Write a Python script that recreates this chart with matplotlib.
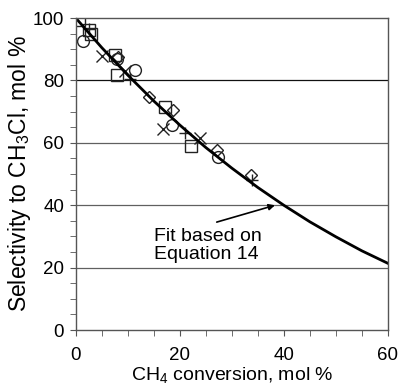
import matplotlib
matplotlib.use("Agg")
import matplotlib.pyplot as plt
from matplotlib.ticker import MultipleLocator

plt.rcParams['font.family'] = ['Liberation Sans', 'DejaVu Sans']
plt.rcParams['mathtext.fontset'] = 'custom'
plt.rcParams['mathtext.rm'] = 'Liberation Sans'
plt.rcParams['mathtext.it'] = 'Liberation Sans:italic'

# fit curve
fit_x = [0, 5, 10, 15, 20, 25, 30, 35, 40, 45, 50, 55, 60]
fit_y = [100, 90.5, 81.7, 73.4, 65.7, 58.5, 51.9, 45.7, 40.0, 34.7, 29.9, 25.4, 21.4]

# measured points
sq_x = [0.6, 2.5, 2.9, 7.5, 7.9, 17.1, 22.1]
sq_y = [99.5, 96.2, 94.9, 88.1, 81.6, 71.5, 58.9]
ci_x = [1.3, 7.9, 11.3, 18.5, 27.3]
ci_y = [92.6, 87.0, 83.5, 65.7, 55.6]
xx_x = [5.0, 9.4, 16.7, 23.8]
xx_y = [87.8, 83.0, 64.4, 61.4]
di_x = [8.2, 14.0, 18.7, 27.1, 33.7]
di_y = [87.6, 74.6, 70.6, 57.7, 49.7]
pl_x = [2.5, 10.4, 21.0, 33.8]
pl_y = [96.5, 80.6, 63.3, 48.0]

fig = plt.figure(figsize=(3.99, 3.92), dpi=100)
ax = fig.add_axes([0.19, 0.158, 0.782, 0.796])

for yv in [20, 40, 60]:
    ax.axhline(yv, color='#606060', lw=0.9, zorder=0)
ax.axhline(80, color='#111111', lw=0.9, zorder=0)

ms = 8.5
ax.plot(sq_x, sq_y, 's', ms=ms, mfc='none', mec='#222222', mew=1.0)
ax.plot(ci_x, ci_y, 'o', ms=ms, mfc='none', mec='#222222', mew=1.0)
ax.plot(xx_x, xx_y, 'x', ms=ms, mec='#222222', mew=1.0)
ax.plot(di_x, di_y, 'D', ms=6.5, mfc='none', mec='#222222', mew=1.0)
ax.plot(pl_x, pl_y, '+', ms=ms, mec='#222222', mew=1.0)
ax.plot(fit_x, fit_y, '-', color='black', lw=2.0)

ax.annotate('', xy=(38.3, 40.0), xytext=(27.1, 34.6),
            arrowprops=dict(arrowstyle='-|>', color='black', lw=1.2,
                            mutation_scale=9, shrinkA=0, shrinkB=0))
ax.text(15.0, 27.1, 'Fit based on\nEquation 14', fontsize=14,
        ha='left', va='center', linespacing=1.1)

ax.set_xlim(0, 60)
ax.set_ylim(0, 100)
ax.xaxis.set_major_locator(MultipleLocator(20))
ax.xaxis.set_minor_locator(MultipleLocator(5))
ax.yaxis.set_major_locator(MultipleLocator(20))
ax.yaxis.set_minor_locator(MultipleLocator(5))
ax.tick_params(which='both', direction='out', length=4, color='#555555',
               labelsize=13.5)
ax.tick_params(axis='x', pad=8)
ax.tick_params(axis='y', pad=4.5)
for s in ax.spines.values():
    s.set_color('#555555')
    s.set_linewidth(1.0)

ax.set_xlabel('CH$_4$ conversion, mol %', fontsize=14, labelpad=1)
ax.set_ylabel('Selectivity to CH$_3$Cl, mol %', fontsize=16.5, labelpad=0)

fig.savefig('out.png', dpi=100)
